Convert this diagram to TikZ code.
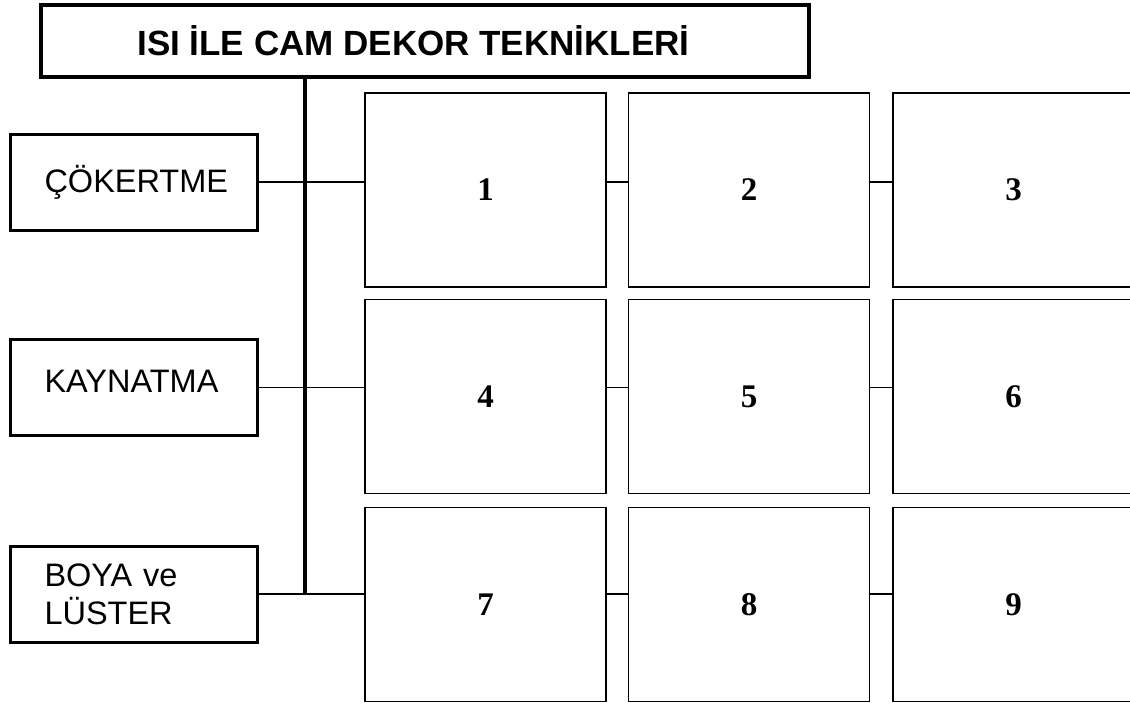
\documentclass[tikz,border=0pt]{standalone}
\usepackage{fontspec}
\setmainfont{Liberation Serif}
\setsansfont{Liberation Sans}
\usetikzlibrary{positioning}

\begin{document}
\begin{tikzpicture}[
    x=1pt, y=-1pt,
    font=\sffamily\fontsize{32.5}{38}\selectfont,
    titlebox/.style={rectangle, draw, line width=4pt, inner sep=0pt,
                minimum width=768pt, minimum height=72pt,
                font=\sffamily\bfseries\fontsize{35}{40}\selectfont},
    groupbox/.style={rectangle, draw, line width=3pt, inner sep=0pt,
                minimum width=247pt, minimum height=96pt,
                text width=178pt, align=left},
    cell/.style={rectangle, draw, line width=1.5pt, inner sep=0pt,
                minimum width=241pt, minimum height=194pt,
                font=\rmfamily\bfseries\fontsize{33}{38}\selectfont},
    link/.style={line width=1.2pt},
    trunk/.style={line width=4pt}
  ]
  \useasboundingbox (0,0) rectangle (1130,702);

  \node[titlebox] (title) at (425,41) {ISI İLE CAM DEKOR TEKNİKLERİ\hspace*{23pt}};

  \node[groupbox] (cok)  at (133.5,182)   {ÇÖKERTME};
  \node[groupbox, text depth=12pt] (kay) at (133.5,387.5) {KAYNATMA};
  \node[groupbox] (boya) at (133.5,594)   {BOYA ve\\LÜSTER};

  \node[cell] (c1) at (485.5,190)  {1};
  \node[cell] (c2) at (749,190)    {2};
  \node[cell] (c3) at (1013.5,190) {3};
  \node[cell] (c4) at (485.5,396.5)  {4};
  \node[cell] (c5) at (749,396.5)    {5};
  \node[cell] (c6) at (1013.5,396.5) {6};
  \node[cell] (c7) at (485.5,604.5)  {7};
  \node[cell] (c8) at (749,604.5)    {8};
  \node[cell] (c9) at (1013.5,604.5) {9};

  \coordinate (trunkx) at (305,0);
  \draw[trunk] (title.south -| trunkx) -- (boya -| trunkx);

  \draw[link] (cok.east) -- (cok -| c1.west);
  \draw[link] (cok -| c1.east) -- (cok -| c2.west);
  \draw[link] (cok -| c2.east) -- (cok -| c3.west);
  \draw[link] (kay.east) -- (kay -| c4.west);
  \draw[link] (kay -| c4.east) -- (kay -| c5.west);
  \draw[link] (kay -| c5.east) -- (kay -| c6.west);
  \draw[link] (boya.east) -- (boya -| c7.west);
  \draw[link] (boya -| c7.east) -- (boya -| c8.west);
  \draw[link] (boya -| c8.east) -- (boya -| c9.west);
\end{tikzpicture}
\end{document}
